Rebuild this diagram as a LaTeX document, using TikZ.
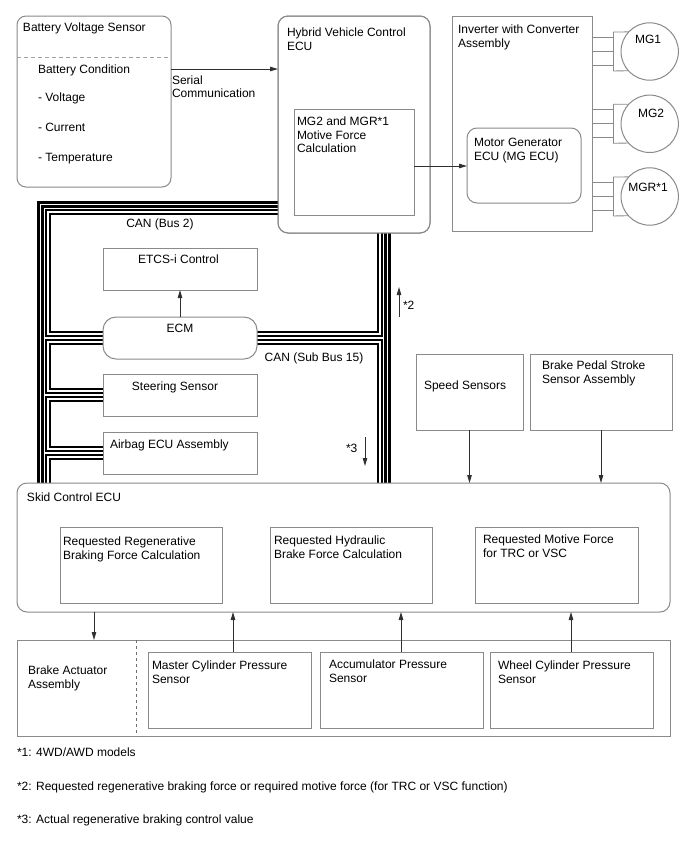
\documentclass[tikz,border=0pt]{standalone}
\usepackage{fontspec}
\setmainfont{Liberation Sans}
\usetikzlibrary{arrows.meta}
\definecolor{boxgray}{HTML}{8A8A8A}
\definecolor{arrgray}{HTML}{303030}
\definecolor{dashgray}{HTML}{A0A0A0}
\begin{document}
\begin{tikzpicture}[x=1pt,y=-1pt,
  font=\fontsize{12}{14}\selectfont,
  box/.style={draw=boxgray, line width=1pt, fill=white, rectangle, inner sep=0pt, outer sep=0pt, anchor=north west},
  rbox/.style={box, rounded corners=#1},
  lbl/.style={anchor=base west, inner sep=0pt, outer sep=0pt, text=black},
  clbl/.style={anchor=base, inner sep=0pt, outer sep=0pt, text=black},
  arr/.style={draw=arrgray, line width=0.9pt, -{Triangle[length=8pt,width=4.5pt]}},
  canpair/.style={draw=black, line width=2.3pt, double=white, double distance=1.8pt},
  wire/.style={draw=boxgray, line width=0.9pt},
  mg/.style={circle, draw=boxgray, line width=1pt, fill=white, minimum size=57.4pt, inner sep=0pt, outer sep=0pt}
]
\useasboundingbox (0,0) rectangle (688,852);
\fill[white] (0,0) rectangle (688,852);

% ---------- box nodes ----------
\node[rbox=9pt, minimum width=154pt, minimum height=171pt] (bat) at (17,16) {};
\node[rbox=10pt, minimum width=152pt, minimum height=217pt] (hv) at (278,16) {};
\node[box, minimum width=120pt, minimum height=106pt] (hvcalc) at (294,109) {};
\node[box, minimum width=140pt, minimum height=215pt] (inv) at (452,16) {};
\node[rbox=10pt, minimum width=114pt, minimum height=75pt] (mgecu) at (467,128) {};
\node[mg] (mg1) at (649.7,51.5) {};
\node[mg] (mg2) at (649.7,123.8) {};
\node[mg] (mgr) at (649.7,196.5) {};

% ---------- CAN buses (drawn before the boxes they join) ----------
\coordinate (Lo) at (40.5,0);
\coordinate (Li) at (48,0);
\coordinate (Ri) at (380,0);
\coordinate (Ro) at (387.5,0);
\node[box, draw=none, fill=none, minimum width=653pt, minimum height=129pt] (skidref) at (17,483) {};
\draw[canpair] (hv.west |- 0,204.5) -- (Lo |- 0,204.5) -- (Lo |- skidref.north);
\draw[canpair] (hv.west |- 0,212) -- (Li |- 0,212) -- (Li |- 0,334) -- (103,334);
\draw[canpair] (103,342) -- (Li |- 0,342) -- (Li |- 0,391) -- (103,391);
\draw[canpair] (103,399) -- (Li |- 0,399) -- (Li |- 0,449) -- (103,449);
\draw[canpair] (103,457) -- (Li |- 0,457) -- (Li |- skidref.north);
\draw[canpair] (257,334) -- (Ri |- 0,334) -- (Ri |- hv.south);
\draw[canpair] (257,342) -- (Ri |- 0,342) -- (Ri |- skidref.north);
\draw[canpair] (Ro |- hv.south) -- (Ro |- skidref.north);

% redraw HV ECU over bus ends
\node[rbox=10pt, fill=none, minimum width=152pt, minimum height=217pt] (hvb) at (278,16) {};

\node[box, minimum width=154pt, minimum height=42pt] (etcs) at (103,248) {};
\node[rbox=13pt, minimum width=154pt, minimum height=42pt] (ecm) at (103,317) {};
\node[box, minimum width=154pt, minimum height=42pt] (steer) at (103,374) {};
\node[box, minimum width=154pt, minimum height=42pt] (airbag) at (103,432) {};
\node[box, minimum width=107pt, minimum height=76pt] (speed) at (416,354) {};
\node[box, minimum width=142pt, minimum height=76pt] (bpedal) at (530,354) {};
\node[rbox=10pt, minimum width=653pt, minimum height=129pt] (skid) at (17,483) {};
\node[box, minimum width=162pt, minimum height=76pt] (reg) at (60,527) {};
\node[box, minimum width=162pt, minimum height=76pt] (hyd) at (270,527) {};
\node[box, minimum width=163pt, minimum height=76pt] (mot) at (475,527) {};
\node[box, minimum width=653pt, minimum height=96pt] (act) at (17,640) {};
\node[box, minimum width=163pt, minimum height=76pt] (mcp) at (148,652) {};
\node[box, minimum width=163pt, minimum height=76pt] (acc) at (320,652) {};
\node[box, minimum width=163pt, minimum height=76pt] (wcp) at (490,652) {};

% dashed separators
\draw[dashgray, line width=1pt, dash pattern=on 4pt off 3pt] (bat.west |- 0,57.5) -- (bat.east |- 0,57.5);
\draw[boxgray!80!black, line width=0.8pt, dash pattern=on 3pt off 3pt] (136,0 |- act.north) -- (136,0 |- act.south);

% ---------- MG wiring ----------
\foreach \m/\c in {mg1/51.5, mg2/123.8, mgr/196.5}{
  \draw[wire] (inv.east |- 0,\c-14) -- (613,\c-14);
  \draw[wire] (inv.east |- 0,\c) -- (613,\c);
  \draw[wire] (inv.east |- 0,\c+14) -- (613,\c+14);
  \draw[wire] (613,\c-19.5) -- (613,\c+19.5);
  \draw[wire] (613,\c-19.5) -- (\m.137.2);
  \draw[wire] (613,\c+19.5) -- (\m.222.8);
}

% ---------- arrows ----------
\draw[arr] ([yshift=-53pt]bat.north east) -- ([yshift=-53pt]bat.north east -| hv.west);
\draw[arr] (hvcalc.east |- 0,166) -- (mgecu.west |- 0,166);
\draw[arr] (ecm.north -| 180,0) -- (etcs.south -| 180,0);
\coordinate (s2a) at (399,317);
\coordinate (s2b) at (399,287);
\draw[arr] (s2a) -- (s2b);
\coordinate (s3a) at (365,437);
\coordinate (s3b) at (365,466);
\draw[arr] (s3a) -- (s3b);
\draw[arr] (speed.south) -- (speed.south |- skid.north);
\draw[arr] (bpedal.south) -- (bpedal.south |- skid.north);
\draw[arr] (skid.south -| 94,0) -- (act.north -| 94,0);
\draw[arr] (mcp.north -| 233,0) -- (skid.south -| 233,0);
\draw[arr] (acc.north -| 401,0) -- (skid.south -| 401,0);
\draw[arr] (wcp.north -| 571,0) -- (skid.south -| 571,0);

% ---------- texts ----------
\node[lbl] (t1) at (23,31) {Battery Voltage Sensor};
\node[lbl] (t2) at (38,73) {Battery Condition};
\node[lbl] (t3) at (38,101) {- Voltage};
\node[lbl] (t4) at (38,131) {- Current};
\node[lbl] (t5) at (38,161) {- Temperature};
\node[lbl] (t6) at (172,84) {Serial};
\node[lbl] (t7) at (172,97) {Communication};
\node[lbl] (t8) at (287,36) {Hybrid Vehicle Control};
\node[lbl] (t9) at (287,50) {ECU};
\node[lbl] (t10) at (297,125) {MG2 and MGR*1};
\node[lbl] (t11) at (297,139) {Motive Force};
\node[lbl] (t12) at (297,152) {Calculation};
\node[lbl] (t13) at (458,33) {Inverter with Converter};
\node[lbl] (t14) at (458,47) {Assembly};
\node[lbl] (t15) at (474,146) {Motor Generator};
\node[lbl] (t16) at (474,160) {ECU (MG ECU)};
\node[clbl] (t17) at (648,43.5) {MG1};
\node[clbl] (t18) at (651,117) {MG2};
\node[clbl] (t19) at (648,191) {MGR*1};
\node[clbl] (t20) at (160,227) {CAN (Bus 2)};
\node[clbl] (t21) at (178.5,263) {ETCS-i Control};
\node[clbl] (t22) at (180,332) {ECM};
\node[clbl] (t23) at (314,361) {CAN (Sub Bus 15)};
\node[clbl] (t24) at (175,390) {Steering Sensor};
\node[lbl] (t25) at (110,448) {Airbag ECU Assembly};
\node[lbl] (t26) at (403,309) {*2};
\node[lbl] (t27) at (346,452) {*3};
\node[lbl] (t28) at (424,389) {Speed Sensors};
\node[lbl] (t29) at (542,369) {Brake Pedal Stroke};
\node[lbl] (t30) at (542,383) {Sensor Assembly};
\node[lbl] (t31) at (27,501) {Skid Control ECU};
\node[lbl] (t32) at (63,545) {Requested Regenerative};
\node[lbl] (t33) at (63,559) {Braking Force Calculation};
\node[lbl] (t34) at (274,544) {Requested Hydraulic};
\node[lbl] (t35) at (274,558) {Brake Force Calculation};
\node[lbl] (t36) at (483,543) {Requested Motive Force};
\node[lbl] (t37) at (483,557) {for TRC or VSC};
\node[lbl] (t38) at (28,674) {Brake Actuator};
\node[lbl] (t39) at (28,688) {Assembly};
\node[lbl] (t40) at (152,669) {Master Cylinder Pressure};
\node[lbl] (t41) at (152,683) {Sensor};
\node[lbl] (t42) at (329,668) {Accumulator Pressure};
\node[lbl] (t43) at (329,682) {Sensor};
\node[lbl] (t44) at (498,669) {Wheel Cylinder Pressure};
\node[lbl] (t45) at (498,683) {Sensor};
\node[lbl] (t46) at (17,756) {*1: 4WD/AWD models};
\node[lbl] (t47) at (17,790) {*2: Requested regenerative braking force or required motive force (for TRC or VSC function)};
\node[lbl] (t48) at (17,823) {*3: Actual regenerative braking control value};
\end{tikzpicture}
\end{document}
